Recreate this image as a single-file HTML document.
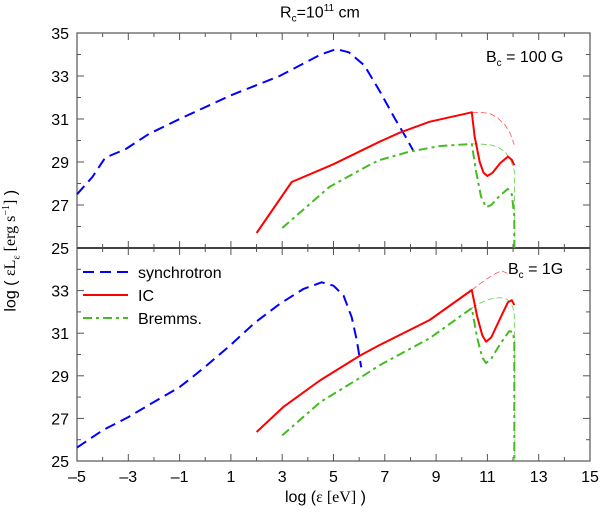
<!DOCTYPE html>
<html><head><meta charset="utf-8"><style>
html,body{margin:0;padding:0;background:#fff;}
svg{display:block;font-family:"Liberation Sans",sans-serif;}
</style></head><body>
<svg id="chart" width="600" height="512" viewBox="0 0 600 512"></svg>
<script>
const xTicks=[-5,-3,-1,1,3,5,7,9,11,13,15];
const yTicksTop=[25,27,29,31,33,35];
const yTicksBot=[25,27,29,31,33];
// Top panel (B=100 G)
const syncTopX=[-5,-4.4,-3.9,-3.1,-2.2,-1,1,2.9,4.5,5.1,5.6,6.2,6.8,7.4,7.8,8.1];
const syncTopY=[27.5,28.3,29.2,29.6,30.3,31,32.1,33,34,34.25,34.1,33.5,32.3,31,30.2,29.55];
const icTopX=[2.0,3.37,5.0,6.79,7.57,8.74,10.39,10.5,10.7,10.85,11.0,11.2,11.5,11.8,11.95,12.05];
const icTopY=[25.7,28.07,28.9,29.94,30.36,30.87,31.31,30.2,29.0,28.5,28.35,28.5,28.95,29.25,29.1,28.85];
const icEnvTopX=[10.39,10.8,11.1,11.4,11.7,11.9,12.05];
const icEnvTopY=[31.31,31.3,31.25,31.05,30.7,30.3,29.8];
const brTopX=[3.0,4.84,6.4,6.79,7.96,9.13,10.39,10.55,10.75,10.95,11.15,11.5,11.8,11.95,12.05,12.05];
const brTopY=[25.93,27.84,28.86,29.09,29.48,29.74,29.84,28.6,27.4,26.9,27.0,27.45,27.75,27.5,26.5,25];
const brEnvTopX=[10.39,10.8,11.1,11.4,11.7,11.9,12.05,12.07];
const brEnvTopY=[29.84,29.83,29.8,29.7,29.45,29.1,28.6,25];
// Bottom panel (B=1 G)
const syncBotX=[-5,-4,-3,-2,-1,-0.5,0.05,0.96,1.94,2.9,3.83,4.54,5.0,5.39,5.71,5.91,6.08];
const syncBotY=[25.63,26.44,27.06,27.77,28.47,28.94,29.48,30.42,31.5,32.37,33.08,33.39,33.23,32.77,31.75,30.66,29.4];
const icBotX=[2.0,3.04,4.47,6.03,6.81,8.75,10.39,10.6,10.8,10.95,11.15,11.5,11.8,11.95,12.05];
const icBotY=[26.36,27.53,28.78,29.95,30.45,31.62,33.03,31.8,30.9,30.6,30.8,31.7,32.45,32.55,32.32];
const icEnvBotX=[10.39,10.8,11.1,11.35,11.55,11.8,11.95,12.04];
const icEnvBotY=[33.03,33.4,33.65,33.82,33.93,33.8,33.6,33.36];
const brBotX=[3.0,4.49,6.03,6.81,8.76,10.39,10.6,10.8,10.95,11.15,11.5,11.85,12.0,12.05,12.05];
const brBotY=[26.2,27.77,28.9,29.5,30.77,32.18,30.8,29.85,29.6,29.8,30.5,31.1,31.05,30.6,25];
const brEnvBotX=[10.39,10.7,10.97,11.25,11.5,11.75,11.88,12.0,12.05,12.07];
const brEnvBotY=[32.18,32.4,32.56,32.64,32.67,32.6,32.48,32.2,31.85,25];

const svg=document.getElementById('chart');
const NS='http://www.w3.org/2000/svg';
const L=77,R=590;
const X=v=>L+(v+5)*(R-L)/20;
const panels={top:{t:33,b:248},bot:{t:248,b:461}};
const Y=(p,v)=>panels[p].b-(v-25)*(panels[p].b-panels[p].t)/10;
function el(tag,attrs,parent){const e=document.createElementNS(NS,tag);for(const k in attrs)e.setAttribute(k,attrs[k]);(parent||svg).appendChild(e);return e;}
function line(p,xs,ys,color,w,dash,name){
  const d=xs.map((x,i)=>(i?'L':'M')+X(x).toFixed(1)+','+Y(p,ys[i]).toFixed(1)).join('');
  const e=el('path',{d:d,fill:'none',stroke:color,'stroke-width':w,'stroke-dasharray':dash||'none','stroke-linejoin':'round'});
  
  
}
['top','bot'].forEach(p=>{
  const P=panels[p];
  const r=el('rect',{x:L,y:P.t,width:R-L,height:P.b-P.t,fill:'none',stroke:'#555','stroke-width':1.2});
  
  
  for(let v=-5;v<=15;v++){const len=(v%2!==0)?7:4;
    el('line',{x1:X(v),x2:X(v),y1:P.b,y2:P.b-len,stroke:'#555'});
    el('line',{x1:X(v),x2:X(v),y1:P.t,y2:P.t+len,stroke:'#555'});}
  for(let v=25;v<=35;v++){const len=(v%2)?7:4;
    el('line',{x1:L,x2:L+len,y1:Y(p,v),y2:Y(p,v),stroke:'#555'});
    el('line',{x1:R,x2:R-len,y1:Y(p,v),y2:Y(p,v),stroke:'#555'});}
});
el('line',{x1:L,x2:R,y1:248,y2:248,stroke:'#444','stroke-width':2});
function txt(x,y,s,name,attrs){const t=el('text',Object.assign({x:x,y:y,'font-size':16,fill:'#000'},attrs||{}));t.textContent=s;
  
  return t;}
yTicksTop.forEach(v=>txt(L-8,Y('top',v)+6,v,'y-tick-top-'+v,{'text-anchor':'end'}));
yTicksBot.forEach(v=>txt(L-8,Y('bot',v)+6,v,'y-tick-bot-'+v,{'text-anchor':'end'}));
xTicks.forEach(v=>txt(X(v),482,v<0?'\u2013'+(-v):v,'x-tick-'+v,{'text-anchor':'middle'}));
line('top',syncTopX,syncTopY,'#0000ff',2,'11,6','sync-top');
line('top',icEnvTopX,icEnvTopY,'#ff5555',0.8,'6,3','ic-envelope-top');
line('top',brEnvTopX,brEnvTopY,'#66cc44',0.8,'6,3','brems-envelope-top');
line('top',icTopX,icTopY,'#ff0000',2,null,'ic-top');
line('top',brTopX,brTopY,'#44bb22',2,'9,4,3,4','brems-top');
line('bot',syncBotX,syncBotY,'#0000ff',2,'11,6','sync-bot');
line('bot',icEnvBotX,icEnvBotY,'#ff5555',0.8,'6,3','ic-envelope-bot');
line('bot',brEnvBotX,brEnvBotY,'#66cc44',0.8,'6,3','brems-envelope-bot');
line('bot',icBotX,icBotY,'#ff0000',2,null,'ic-bot');
line('bot',brBotX,brBotY,'#44bb22',2,'9,4,3,4','brems-bot');
const lg=[['synchrotron','#0000ff','11,6'],['IC','#ff0000','none'],['Bremms.','#44bb22','9,4,3,4']];
lg.forEach((d,i)=>{const y=272+i*23;
  const l=el('line',{x1:83,x2:128,y1:y,y2:y,stroke:d[1],'stroke-width':2,'stroke-dasharray':d[2]});
  
  
  txt(138,y+6,d[0],'legend-label-'+i);});
</script>
<div style="position:absolute;left:0;top:0;width:600px;height:512px;pointer-events:none;font-family:'Liberation Sans',sans-serif;color:#000">
  <div style="position:absolute;left:280px;top:3px;font-size:16px;">R<sub style="font-size:10px">c</sub>=10<sup style="font-size:10px">11</sup> cm</div>
  <div style="position:absolute;left:486px;top:49px;font-size:16px;">B<sub style="font-size:10px">c</sub> = 100 G</div>
  <div style="position:absolute;left:508px;top:261px;font-size:16px;background:#fff">B<sub style="font-size:10px">c</sub> = 1G</div>
  <div style="position:absolute;left:285px;top:489px;font-size:16px;">log (<span style="font-family:'Liberation Serif',serif">ε [eV]</span> )</div>
  <div style="position:absolute;left:-88px;top:240px;width:200px;text-align:center;font-size:16px;transform:rotate(-90deg);white-space:nowrap">log ( <span style="font-family:'Liberation Serif',serif">εL<sub style="font-size:10px">ε</sub> [erg s<sup style="font-size:10px">−1</sup>]</span> )</div>
</div>
</body></html>
